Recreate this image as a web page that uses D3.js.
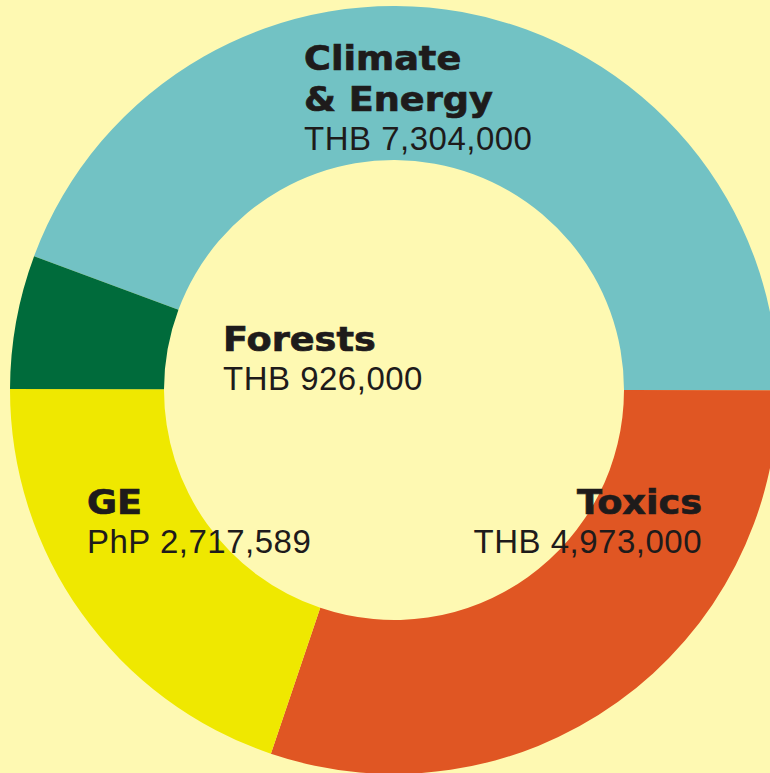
<!DOCTYPE html>
<html>
<head>
<meta charset="utf-8">
<script src="https://cdn.jsdelivr.net/npm/d3@7"></script>
<style>
  html, body { margin: 0; padding: 0; background: #fef9b2; overflow: hidden; }
  #chart { width: 770px; height: 773px; }
</style>
</head>
<body>
<div id="chart"></div>
<script>
// campaign budgets, in the order they go round the ring (clockwise)
const categories = ["Climate\n& Energy", "Toxics", "GE", "Forests"];
const amountLabels = ["THB 7,304,000", "THB 4,973,000", "PhP 2,717,589", "THB 926,000"];
// slice sizes in THB (GE converted)
const sliceValues = [7304000, 4973000, 3270000, 926000];
const colors = ["#72c2c4", "#e05623", "#efe800", "#006b3b"];

// where each label block sits (left x / anchor, first baseline)
const labelPos = [
  { x: 304, y: 70, anchor: "start" },
  { x: 702, y: 514, anchor: "end" },
  { x: 87, y: 514, anchor: "start" },
  { x: 223, y: 351, anchor: "start" }
];

const width = 770, height = 773;
const cx = 394, cy = 390;
const outerR = 384, innerR = 230;

const svg = d3.select("#chart")
  .append("svg")
  .attr("width", width)
  .attr("height", height);

svg.append("rect")
  .attr("width", width)
  .attr("height", height)
  .attr("fill", "#fef9b2");

const g = svg.append("g")
  .attr("transform", `translate(${cx},${cy})`);

const start = -69.6 * Math.PI / 180;
const pie = d3.pie()
  .sort(null)
  .startAngle(start)
  .endAngle(start + 2 * Math.PI);

const arc = d3.arc()
  .innerRadius(innerR)
  .outerRadius(outerR);

g.selectAll("path")
  .data(pie(sliceValues))
  .enter()
  .append("path")
  .attr("d", arc)
  .attr("fill", (d, i) => colors[i]);

// labels
const labels = svg.append("g");
categories.forEach((c, i) => {
  const p = labelPos[i];
  const lines = c.split("\n");
  lines.forEach((line, j) => {
    const by = p.y + j * 41;
    labels.append("text")
      .attr("transform", `translate(${p.x},${by}) scale(1.11,1)`)
      .attr("text-anchor", p.anchor)
      .attr("font-family", "DejaVu Sans, sans-serif")
      .attr("font-weight", "bold")
      .attr("font-size", 33)
      .attr("fill", "#1e1b1b")
      .attr("stroke", "#1e1b1b")
      .attr("stroke-width", 0.7)
      .text(line);
  });
  labels.append("text")
    .attr("x", p.x)
    .attr("y", p.y + (lines.length - 1) * 41 + 39)
    .attr("text-anchor", p.anchor)
    .attr("font-family", "Liberation Sans, Arial, sans-serif")
    .attr("font-size", 33)
    .attr("letter-spacing", 0.5)
    .attr("fill", "#1e1b1b")
    .text(amountLabels[i]);
});
</script>
</body>
</html>
